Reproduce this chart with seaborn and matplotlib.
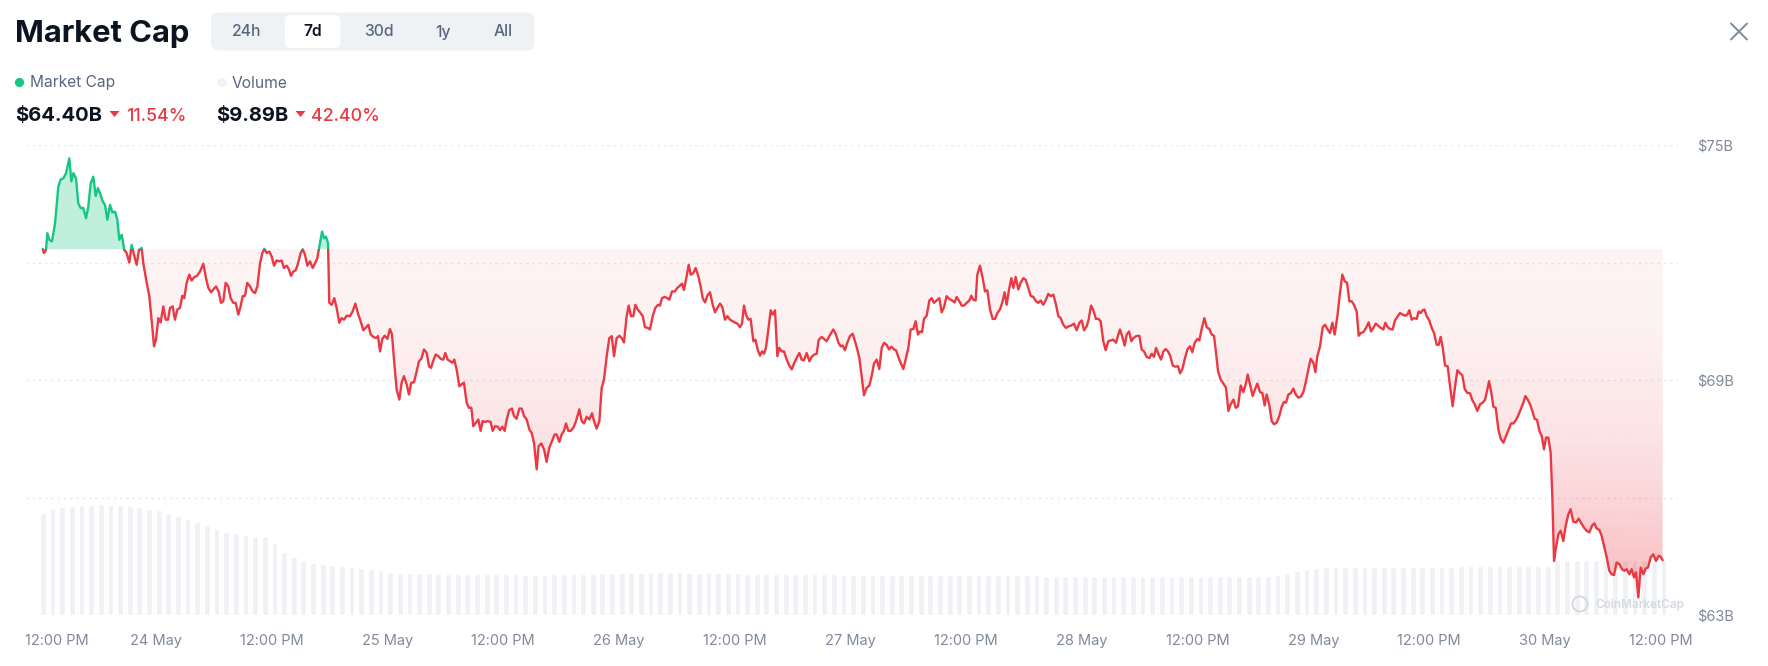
import numpy as np
import pandas as pd
import seaborn as sns
import matplotlib
matplotlib.use("Agg")
import matplotlib.pyplot as plt
from matplotlib.patches import FancyBboxPatch, Rectangle, PathPatch, Circle, Polygon
from matplotlib.colors import to_rgb
from matplotlib.transforms import ScaledTranslation

# ---- data: hours since 23 May 12:00 PM, market cap in $B ----
hours_a = [0.28, 0.41, 0.62, 0.76, 0.97, 1.24, 1.56, 1.90, 2.14, 2.42,
           2.70, 3.04, 3.25, 3.46, 3.73, 3.97, 4.22, 4.49, 4.77, 5.01,
           5.25, 5.53, 5.77, 6.01, 6.22, 6.50, 6.74, 6.98, 7.26, 7.50,
           7.78, 8.02, 8.22, 8.47, 8.74, 8.98, 9.26, 9.50, 9.74, 10.02,
           10.26, 10.54, 10.71, 11.06, 11.33, 11.57, 11.82, 12.02, 12.27, 12.51,
           12.78, 13.03, 13.27, 13.48, 13.75, 13.99, 14.24, 14.51, 14.75, 14.96,
           15.20, 15.48, 15.72, 16.00, 16.24, 16.59, 16.93, 17.21, 17.45, 17.73,
           17.97, 18.24, 18.52, 18.76, 19.00, 19.25, 19.52, 19.76, 20.04, 20.28,
           20.56, 20.80, 21.01, 21.25, 21.49, 21.77, 22.05, 22.29, 22.53, 22.81,
           23.05, 23.25, 23.50, 23.77, 24.02, 24.26, 24.53, 24.81, 25.05, 25.29,
           25.57, 25.81, 26.02, 26.26, 26.50, 26.71, 27.02, 27.23, 27.47, 27.71,
           27.99]
mcap_a = [72.35, 72.24, 72.32, 72.75, 72.58, 72.54, 73.00, 73.94, 74.12, 74.15,
          74.28, 74.66, 74.07, 74.28, 74.15, 73.51, 73.39, 73.39, 73.13, 73.43,
          74.02, 74.19, 73.70, 73.90, 73.77, 73.56, 73.47, 73.09, 73.47, 73.28,
          73.30, 73.09, 72.58, 72.71, 72.32, 72.24, 72.00, 72.45, 72.20, 71.94,
          72.32, 72.37, 71.98, 71.48, 71.14, 70.54, 69.86, 70.03, 70.58, 70.47,
          70.88, 70.54, 70.54, 70.84, 70.88, 70.54, 70.80, 70.84, 71.15, 71.09,
          71.48, 71.69, 71.54, 71.63, 71.65, 71.77, 71.97, 71.60, 71.35, 71.24,
          71.31, 71.39, 71.26, 70.97, 71.01, 71.48, 71.39, 71.09, 70.97, 70.97,
          70.67, 70.88, 71.14, 71.15, 71.48, 71.39, 71.26, 71.22, 71.39, 71.98,
          72.24, 72.35, 72.24, 72.28, 72.15, 71.92, 72.05, 72.03, 72.05, 71.86,
          71.92, 71.82, 71.66, 71.77, 71.80, 71.94, 72.24, 72.34, 72.20, 71.92,
          72.03]

hours_b = [28.27, 28.51, 28.75, 28.96, 29.24, 29.44, 29.65, 29.86, 29.99, 30.24,
           30.51, 30.75, 31.03, 31.27, 31.52, 31.79, 32.14, 32.41, 32.69, 33.00,
           33.24, 33.52, 33.76, 34.04, 34.28, 34.56, 34.83, 35.04, 35.25, 35.49,
           35.73, 36.01, 36.28, 36.49, 36.70, 36.97, 37.25, 37.49, 37.73, 38.01,
           38.25, 38.49, 38.77, 39.05, 39.29, 39.53, 39.81, 40.09, 40.33, 40.53,
           40.78, 41.02, 41.29, 41.54, 41.81, 42.02, 42.26, 42.50, 42.75, 42.95,
           43.19, 43.47, 43.71, 43.95, 44.23, 44.47, 44.72, 44.92, 45.20, 45.44,
           45.68, 45.89, 46.13, 46.41, 46.72, 46.93, 47.17, 47.44, 47.69, 47.93,
           48.17, 48.38, 48.65, 48.93, 49.14, 49.41, 49.69, 49.93, 50.18, 50.45,
           50.73, 50.97, 51.21, 51.49, 51.69, 51.97, 52.25, 52.52, 52.80, 53.08,
           53.35, 53.56, 53.84, 54.08, 54.32, 54.53, 54.77, 55.01, 55.29, 55.57,
           55.91]
mcap_b = [71.86, 71.98, 72.11, 72.41, 72.79, 72.62, 72.66, 72.49, 70.97, 70.92,
          71.09, 70.84, 70.46, 70.58, 70.54, 70.64, 70.63, 70.75, 70.95, 70.67,
          70.50, 70.27, 70.33, 70.41, 70.16, 70.10, 70.07, 70.12, 69.73, 70.05,
          70.13, 70.05, 70.30, 70.16, 69.52, 68.76, 68.50, 68.93, 69.10, 68.89,
          68.63, 68.93, 68.94, 69.22, 69.48, 69.54, 69.78, 69.69, 69.35, 69.31,
          69.50, 69.65, 69.61, 69.54, 69.52, 69.69, 69.52, 69.48, 69.44, 69.52,
          69.27, 68.84, 68.89, 68.93, 68.42, 68.29, 68.29, 67.82, 67.91, 67.99,
          67.70, 67.95, 67.93, 67.95, 67.93, 67.70, 67.82, 67.81, 67.72, 67.81,
          67.70, 67.99, 68.23, 68.27, 68.08, 68.01, 68.27, 68.27, 68.08, 67.99,
          67.74, 67.65, 67.40, 66.72, 67.31, 67.38, 67.23, 66.91, 67.27, 67.44,
          67.61, 67.61, 67.42, 67.61, 67.70, 67.89, 67.70, 67.70, 67.78, 67.95,
          68.25]

hours_c = [56.16, 56.40, 56.67, 56.95, 57.23, 57.43, 57.71, 57.99, 58.23, 58.47,
           58.75, 59.02, 59.27, 59.51, 59.78, 60.06, 60.30, 60.54, 60.82, 61.03,
           61.27, 61.51, 61.72, 61.96, 62.20, 62.48, 62.72, 63.00, 63.24, 63.52,
           63.79, 64.07, 64.28, 64.48, 64.76, 65.04, 65.24, 65.52, 65.80, 66.07,
           66.35, 66.56, 66.76, 67.04, 67.25, 67.46, 67.73, 67.97, 68.25, 68.49,
           68.70, 68.94, 69.18, 69.46, 69.74, 69.98, 70.22, 70.50, 70.74, 71.01,
           71.26, 71.53, 71.81, 72.09, 72.29, 72.57, 72.78, 72.98, 73.19, 73.43,
           73.67, 73.95, 74.16, 74.40, 74.64, 74.85, 75.06, 75.26, 75.51, 75.75,
           75.96, 76.20, 76.44, 76.65, 76.89, 77.13, 77.41, 77.68, 77.93, 78.17,
           78.44, 78.72, 78.96, 79.20, 79.48, 79.76, 80.00, 80.27, 80.52, 80.72,
           81.03, 81.28, 81.55, 81.83, 82.24, 82.52, 82.76, 83.00, 83.21, 83.45,
           83.69, 83.97]
mcap_c = [67.95, 67.89, 68.06, 67.99, 68.15, 67.95, 67.76, 67.95, 68.80, 69.01,
          69.61, 70.07, 70.12, 69.61, 70.07, 70.13, 70.07, 69.96, 70.63, 70.90,
          70.63, 70.63, 70.92, 70.80, 70.73, 70.63, 70.35, 70.33, 70.29, 70.63,
          70.84, 70.92, 70.90, 71.09, 71.12, 71.09, 71.05, 71.26, 71.26, 71.35,
          71.41, 71.46, 71.30, 71.65, 71.94, 71.69, 71.73, 71.86, 71.65, 71.39,
          71.09, 70.98, 71.15, 71.24, 70.92, 70.73, 70.84, 70.95, 70.86, 70.54,
          70.63, 70.54, 70.50, 70.46, 70.44, 70.35, 70.44, 70.90, 70.67, 70.54,
          70.56, 69.99, 70.03, 69.78, 69.62, 69.73, 69.67, 69.82, 70.29, 70.78,
          70.67, 70.78, 69.61, 69.82, 69.73, 69.73, 69.52, 69.37, 69.27, 69.42,
          69.56, 69.69, 69.52, 69.50, 69.69, 69.48, 69.59, 69.65, 69.67, 70.02,
          70.10, 70.05, 69.99, 70.12, 70.29, 70.16, 69.96, 69.86, 69.88, 69.76,
          69.95, 70.12]

hours_d = [84.25, 84.49, 84.73, 84.94, 85.18, 85.42, 85.70, 85.98, 86.22, 86.46,
           86.74, 87.01, 87.26, 87.50, 87.77, 88.02, 88.26, 88.53, 88.74, 88.98,
           89.22, 89.50, 89.74, 90.02, 90.26, 90.54, 90.78, 91.02, 91.23, 91.44,
           91.64, 91.92, 92.20, 92.44, 92.68, 92.96, 93.23, 93.48, 93.72, 93.99,
           94.27, 94.55, 94.82, 95.03, 95.31, 95.55, 95.79, 96.07, 96.34, 96.55,
           96.76, 97.00, 97.17, 97.45, 97.73, 97.97, 98.21, 98.49, 98.76, 99.00,
           99.25, 99.52, 99.76, 100.00, 100.21, 100.46, 100.70, 100.91, 101.15, 101.42,
           101.66, 101.94, 102.18, 102.46, 102.70, 102.98, 103.25, 103.50, 103.74, 104.01,
           104.29, 104.53, 104.78, 105.05, 105.33, 105.57, 105.81, 106.09, 106.36, 106.64,
           106.92, 107.19, 107.47, 107.75, 107.99, 108.23, 108.51, 108.71, 108.96, 109.20,
           109.47, 109.72, 109.96, 110.23, 110.48, 110.75, 110.99, 111.27, 111.55, 111.79,
           111.96]
mcap_d = [70.18, 69.99, 69.78, 69.56, 69.10, 68.61, 68.80, 68.86, 69.10, 69.42,
          69.52, 69.28, 69.82, 69.95, 69.90, 69.78, 69.85, 69.78, 69.76, 69.59,
          69.44, 69.28, 69.52, 69.82, 70.29, 70.30, 70.50, 70.16, 70.24, 70.22,
          70.56, 70.64, 71.03, 71.09, 70.97, 71.03, 71.09, 70.73, 70.86, 71.14,
          71.07, 71.03, 70.98, 71.12, 71.01, 70.90, 70.90, 70.97, 71.03, 71.15,
          71.05, 71.03, 71.69, 71.92, 71.60, 71.26, 71.29, 70.80, 70.56, 70.56,
          70.71, 70.80, 70.98, 71.24, 70.92, 71.31, 71.60, 71.35, 71.63, 71.31,
          71.48, 71.60, 71.56, 71.35, 71.15, 71.12, 71.01, 70.97, 71.03, 70.92,
          71.05, 71.20, 71.14, 71.18, 70.92, 70.63, 70.58, 70.41, 70.33, 70.37,
          70.39, 70.44, 70.27, 70.46, 70.52, 70.27, 70.37, 70.54, 70.90, 70.78,
          70.56, 70.56, 70.50, 69.99, 69.76, 69.99, 70.01, 70.03, 69.95, 70.16,
          70.29]

hours_e = [112.21, 112.45, 112.66, 112.90, 113.14, 113.35, 113.63, 113.97, 114.21, 114.45,
           114.73, 115.01, 115.25, 115.49, 115.70, 115.97, 116.22, 116.46, 116.70, 116.94,
           117.18, 117.43, 117.70, 117.98, 118.19, 118.43, 118.70, 118.95, 119.22, 119.46,
           119.71, 119.98, 120.19, 120.47, 120.71, 120.95, 121.23, 121.47, 121.71, 121.92,
           122.13, 122.40, 122.68, 122.95, 123.20, 123.44, 123.72, 123.96, 124.20, 124.48,
           124.75, 125.00, 125.20, 125.44, 125.72, 125.96, 126.20, 126.48, 126.72, 126.96,
           127.17, 127.45, 127.69, 127.93, 128.21, 128.48, 128.73, 128.97, 129.17, 129.42,
           129.66, 129.94, 130.18, 130.45, 130.70, 130.97, 131.21, 131.49, 131.73, 132.01,
           132.22, 132.42, 132.70, 132.98, 133.22, 133.46, 133.74, 133.98, 134.22, 134.50,
           134.77, 135.01, 135.26, 135.50, 135.74, 135.98, 136.22, 136.50, 136.71, 136.92,
           137.19, 137.47, 137.74, 137.99, 138.23, 138.47, 138.71, 138.99, 139.27, 139.47,
           139.71, 139.96]
mcap_e = [70.10, 69.88, 70.16, 70.24, 69.99, 70.07, 70.12, 70.13, 69.78, 69.73,
          69.59, 69.56, 69.67, 69.59, 69.82, 69.65, 69.52, 69.73, 69.79, 69.73,
          69.61, 69.37, 69.34, 69.35, 69.17, 69.28, 69.56, 69.78, 69.86, 69.71,
          69.95, 70.05, 70.01, 70.35, 70.58, 70.35, 70.30, 70.16, 70.13, 69.69,
          69.22, 69.01, 68.91, 68.80, 68.21, 68.38, 68.50, 68.29, 68.33, 68.86,
          68.69, 68.89, 69.14, 68.89, 68.59, 68.76, 68.91, 68.69, 68.67, 68.35,
          68.63, 68.35, 67.95, 67.87, 67.91, 68.08, 68.32, 68.44, 68.42, 68.63,
          68.66, 68.78, 68.63, 68.55, 68.57, 68.69, 68.93, 69.27, 69.54, 69.44,
          69.20, 69.61, 69.86, 70.35, 70.41, 70.30, 70.20, 70.46, 70.16, 70.63,
          71.22, 71.69, 71.52, 71.48, 71.01, 71.01, 70.92, 70.75, 70.13, 70.20,
          70.22, 70.33, 70.47, 70.24, 70.33, 70.44, 70.39, 70.33, 70.29, 70.46,
          70.35, 70.30]

hours_f = [140.23, 140.47, 140.72, 140.99, 141.27, 141.55, 141.75, 141.96, 142.20, 142.44,
           142.72, 142.93, 143.14, 143.34, 143.52, 143.76, 144.03, 144.28, 144.52, 144.79,
           145.00, 145.21, 145.42, 145.66, 145.93, 146.18, 146.45, 146.70, 146.94, 147.21,
           147.45, 147.70, 147.97, 148.25, 148.46, 148.73, 149.01, 149.29, 149.56, 149.80,
           150.05, 150.22, 150.46, 150.67, 150.91, 151.19, 151.43, 151.71, 151.95, 152.22,
           152.50, 152.74, 153.02, 153.26, 153.50, 153.78, 153.99, 154.23, 154.47, 154.71,
           154.95, 155.20, 155.44, 155.68, 155.92, 156.13, 156.37, 156.61, 156.78, 156.96,
           157.16, 157.41, 157.65, 157.92, 158.17, 158.44, 158.68, 158.96, 159.24, 159.51,
           159.79, 160.07, 160.34, 160.62, 160.90, 161.14, 161.38, 161.66, 161.90, 162.14,
           162.42, 162.69, 162.94, 163.18, 163.45, 163.73, 164.01, 164.25, 164.49, 164.77,
           165.01, 165.25, 165.46, 165.70, 165.94, 166.22, 166.46, 166.70, 166.98, 167.25,
           167.53, 167.81, 168.01, 168.22]
mcap_f = [70.29, 70.52, 70.61, 70.71, 70.67, 70.64, 70.67, 70.78, 70.54, 70.58,
          70.56, 70.75, 70.71, 70.78, 70.80, 70.63, 70.52, 70.33, 70.20, 69.90,
          69.90, 70.10, 69.82, 69.37, 69.35, 68.84, 68.33, 68.84, 69.25, 69.17,
          69.12, 68.77, 68.67, 68.66, 68.50, 68.38, 68.21, 68.38, 68.42, 68.49,
          68.76, 68.97, 68.67, 68.32, 68.29, 67.74, 67.50, 67.40, 67.55, 67.72,
          67.89, 67.89, 67.98, 68.10, 68.25, 68.42, 68.59, 68.50, 68.38, 68.21,
          68.01, 67.98, 67.70, 67.57, 67.23, 67.53, 67.53, 67.14, 66.04, 64.38,
          64.72, 65.06, 65.15, 64.89, 65.28, 65.57, 65.70, 65.38, 65.36, 65.46,
          65.34, 65.23, 65.15, 65.11, 65.28, 65.34, 65.21, 65.17, 65.02, 64.77,
          64.47, 64.13, 64.04, 64.02, 64.34, 64.30, 64.17, 64.13, 64.17, 64.04,
          64.17, 63.96, 64.09, 63.45, 64.21, 64.04, 64.19, 64.21, 64.47, 64.55,
          64.38, 64.51, 64.49, 64.40]

# hourly 24h volume ($B), one bar per hour
volume = [17.0, 17.7, 18.0, 18.2, 18.3, 18.4, 18.45, 18.4, 18.3, 18.2,
          18.0, 17.75, 17.5, 17.0, 16.5, 16.0, 15.5, 15.0, 14.4, 13.8,
          13.6, 13.3, 13.25, 13.2, 12.0, 10.5, 9.7, 9.2, 8.7, 8.5,
          8.3, 8.2, 8.0, 7.9, 7.7, 7.5, 7.25, 7.0, 7.0, 6.95,
          6.95, 6.9, 6.9, 6.85, 6.85, 6.85, 6.8, 6.8, 6.8, 6.8,
          6.75, 6.75, 6.75, 6.8, 6.8, 6.85, 6.9, 6.9, 6.95, 6.95,
          7.0, 7.0, 7.05, 7.05, 7.1, 7.1, 7.1, 7.05, 7.05, 7.0,
          7.0, 6.95, 6.95, 6.9, 6.9, 6.9, 6.85, 6.85, 6.85, 6.8,
          6.8, 6.8, 6.8, 6.75, 6.75, 6.75, 6.75, 6.7, 6.7, 6.7,
          6.7, 6.7, 6.65, 6.65, 6.65, 6.65, 6.65, 6.6, 6.6, 6.6,
          6.6, 6.6, 6.6, 6.6, 6.55, 6.55, 6.55, 6.55, 6.55, 6.55,
          6.55, 6.55, 6.5, 6.5, 6.5, 6.5, 6.5, 6.5, 6.5, 6.5,
          6.5, 6.5, 6.5, 6.5, 6.5, 6.5, 6.5, 6.5, 6.7, 7.0,
          7.4, 7.7, 7.9, 8.0, 8.0, 8.0, 8.0, 8.0, 8.0, 8.0,
          8.0, 8.0, 8.05, 8.05, 8.05, 8.05, 8.05, 8.1, 8.1, 8.1,
          8.1, 8.1, 8.15, 8.15, 8.15, 8.2, 8.2, 9.2, 9.2, 9.25,
          9.25, 9.25, 9.2, 9.2, 9.2, 9.15, 9.15, 9.1, 9.1]

noon_ticks = [0, 24, 48, 72, 96, 120, 144, 168]
day_ticks = [12, 36, 60, 84, 108, 132, 156]
day_labels = ["24 May", "25 May", "26 May", "27 May", "28 May", "29 May", "30 May"]
periods = ["24h", "7d", "30d", "1y", "All"]

hours = np.concatenate([hours_a, hours_b, hours_c, hours_d, hours_e, hours_f])
mcap = np.concatenate([mcap_a, mcap_b, mcap_c, mcap_d, mcap_e, mcap_f])
df = pd.DataFrame({"hour": hours, "mcap": mcap})
vol_df = pd.DataFrame({"hour": np.arange(len(volume)) + 0.3, "volume": volume})
base = mcap[0]

RED = "#ea3943"
GREEN = "#16c784"
DARK = "#0d1421"
GRAY = "#58667e"
LIGHT = "#808a9d"

sns.set_theme(style="white")
plt.rcParams['font.family'] = ['Inter', 'DejaVu Sans']

W, H = 1768, 666
fig = plt.figure(figsize=(W / 100, H / 100), dpi=100)
fig.patch.set_facecolor("white")

# overlay in pixel units for the header bits
ov = fig.add_axes([0, 0, 1, 1])
ov.set_xlim(0, W)
ov.set_ylim(H, 0)
ov.axis("off")

rect = [26 / W, 1 - 615 / H, (1678 - 26) / W, (615 - 145) / H]
ax_vol = fig.add_axes(rect)
ax_vol.patch.set_alpha(0)
ax = fig.add_axes(rect)
ax.patch.set_alpha(0)

XL, XR = (26 - 40) / 9.646, (1678 - 40) / 9.646

# volume bars
sns.barplot(data=vol_df, x="hour", y="volume", native_scale=True, orient="x",
            width=0.6, color="#eff1f5", saturation=1, errorbar=None, ax=ax_vol)
ax_vol.set_xlim(XL, XR)
ax_vol.set_ylim(0, 470 / 6.0)
ax_vol.axis("off")

# watermark (above the bars, under the line)
ax.add_patch(Circle((1580, 604), 7.5, fill=False, edgecolor="#d5d9e0", lw=1.4,
                    transform=ov.transData, zorder=0.5))
ax.text(1595, 605, "CoinMarketCap", fontsize=8.5, weight="semibold", color="#d5d9e0",
        va="center", ha="left", transform=ov.transData, zorder=0.5)

# fills
ax.fill_between(hours, np.maximum(mcap, base), base, color=GREEN,
                alpha=0.27, lw=0, zorder=1)
red_poly = ax.fill_between(hours, np.minimum(mcap, base), base, color="none", lw=0)
grad = np.zeros((256, 1, 4))
grad[..., :3] = to_rgb(RED)
t = np.linspace(1, 0, 256)
grad[:, 0, 3] = 0.06 + 0.32 * t ** 2
im = ax.imshow(grad, extent=[hours[0], hours[-1], 63, base], origin="lower",
               aspect="auto", zorder=1, interpolation="bilinear")
clip = PathPatch(red_poly.get_paths()[0], transform=ax.transData, facecolor="none")
im.set_clip_path(clip)

# line, split in colour at the baseline
sns.lineplot(data=df, x="hour", y="mcap", color=RED, linewidth=1.7,
             estimator=None, sort=False, ax=ax, zorder=3)
ax.lines[-1].set_clip_path(Rectangle((XL, 60), XR - XL, base - 60, transform=ax.transData))
sns.lineplot(data=df, x="hour", y="mcap", color=GREEN, linewidth=1.7,
             estimator=None, sort=False, ax=ax, zorder=3)
ax.lines[-1].set_clip_path(Rectangle((XL, base), XR - XL, 20, transform=ax.transData))
for ln in ax.lines:
    ln.set_solid_joinstyle("round")

ax.set_xlim(XL, XR)
ax.set_ylim(63, 75)
ax.set_xlabel("")
ax.set_ylabel("")
for s in ax.spines.values():
    s.set_visible(False)

ax.yaxis.tick_right()
ax.set_yticks([63, 66, 69, 72, 75])
ax.set_yticklabels(["$63B", "", "$69B", "", "$75B"])
ax.yaxis.grid(True, color="#e3e7ec", linestyle=(0, (1.5, 3)), linewidth=1)
ax.xaxis.grid(False)

ticks = sorted(noon_ticks + day_ticks)
labels = ["12:00 PM" if tk in noon_ticks else day_labels[day_ticks.index(tk)] for tk in ticks]
ax.set_xticks(ticks)
ax.set_xticklabels(labels)
ax.tick_params(axis="both", length=0, labelsize=10.5, labelcolor=LIGHT)
ax.tick_params(axis="y", pad=14)
ax.tick_params(axis="x", pad=14)
first = ax.get_xticklabels()[0]
first.set_transform(first.get_transform() + ScaledTranslation(0.17, 0, fig.dpi_scale_trans))

# header
ov.text(15, 42, "Market Cap", fontsize=22.3, weight="bold", color=DARK, va="baseline")
ov.add_patch(FancyBboxPatch((211, 12.5), 323.5, 38, boxstyle="round,pad=0,rounding_size=8",
                            facecolor="#eff2f5", edgecolor="none"))
ov.add_patch(FancyBboxPatch((285, 15), 55.5, 33, boxstyle="round,pad=0,rounding_size=6",
                            facecolor="white", edgecolor="none"))
for lab, cx in zip(periods, [247, 312.5, 379, 443, 503]):
    sel = lab == "7d"
    ov.text(cx, 36.5, lab, fontsize=11.3, ha="center", va="baseline",
            color=DARK if sel else GRAY, weight="semibold" if sel else "medium")

# close cross
ov.plot([1731, 1747], [23.5, 39.5], color=LIGHT, lw=1.4, solid_capstyle="round")
ov.plot([1731, 1747], [39.5, 23.5], color=LIGHT, lw=1.4, solid_capstyle="round")

# legend row
ov.add_patch(Circle((19.5, 82.5), 4.6, color=GREEN, lw=0))
ov.text(30.5, 87.5, "Market Cap", fontsize=11.2, color=GRAY, va="baseline")
ov.add_patch(Circle((222, 82.5), 4.6, color="#eff2f5", lw=0))
ov.text(232, 87.5, "Volume", fontsize=11.2, color=GRAY, va="baseline")

# values row
ov.text(15.5, 121, "$64.40B", fontsize=14.5, weight="bold", color=DARK, va="baseline")
ov.add_patch(Polygon([(109.5, 111), (119.5, 111), (114.5, 117)], color=RED, lw=0))
ov.text(126, 121, "11.54%", fontsize=12.8, weight="medium", color=RED, va="baseline")
ov.text(216.5, 121, "$9.89B", fontsize=14.5, weight="bold", color=DARK, va="baseline")
ov.add_patch(Polygon([(295.5, 111), (305.5, 111), (300.5, 117)], color=RED, lw=0))
ov.text(311.5, 121, "42.40%", fontsize=12.8, weight="medium", color=RED, va="baseline")

fig.savefig("out.png", dpi=100, facecolor="white")
